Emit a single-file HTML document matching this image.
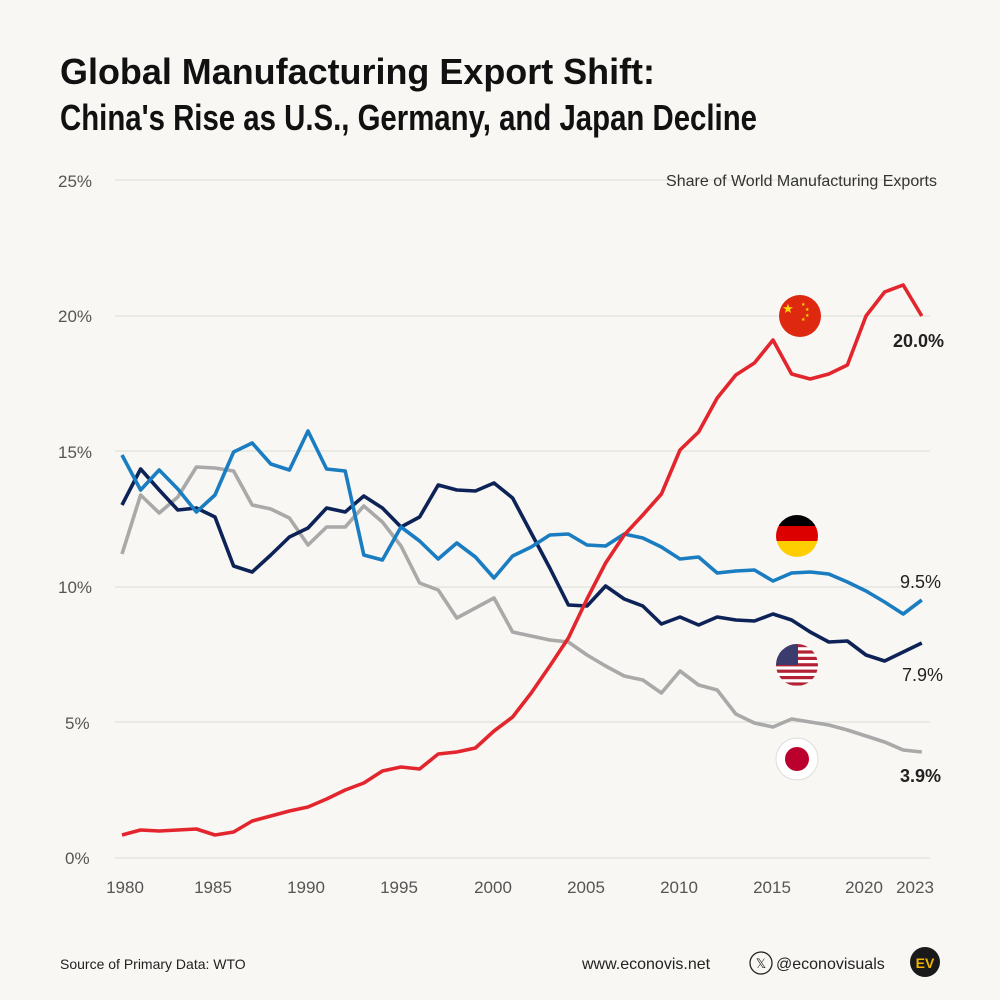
<!DOCTYPE html>
<html><head><meta charset="utf-8"><style>
html,body{margin:0;padding:0;background:#f8f7f3;}
svg{display:block;font-family:"Liberation Sans",sans-serif;}
</style></head><body>
<svg width="1000" height="1000" viewBox="0 0 1000 1000">
<rect width="1000" height="1000" fill="#f8f7f3"/>
<text x="60" y="84" font-size="36" font-weight="bold" fill="#111" textLength="595" lengthAdjust="spacingAndGlyphs">Global Manufacturing Export Shift:</text>
<text x="60" y="130" font-size="36" font-weight="bold" fill="#111" textLength="697" lengthAdjust="spacingAndGlyphs">China's Rise as U.S., Germany, and Japan Decline</text>
<g stroke="#e2e1dc" stroke-width="1.2">
<line x1="115" y1="180" x2="930" y2="180"/><line x1="115" y1="316" x2="930" y2="316"/>
<line x1="115" y1="451" x2="930" y2="451"/><line x1="115" y1="587" x2="930" y2="587"/>
<line x1="115" y1="722" x2="930" y2="722"/><line x1="115" y1="858" x2="930" y2="858"/>
</g>
<g font-size="17" fill="#555">
<text x="58" y="187">25%</text><text x="58" y="322">20%</text><text x="58" y="458">15%</text>
<text x="58" y="593">10%</text><text x="65" y="729">5%</text><text x="65" y="864">0%</text>
</g>
<text x="937" y="186" font-size="16" fill="#333" text-anchor="end">Share of World Manufacturing Exports</text>
<g font-size="17" fill="#555" text-anchor="middle">
<text x="125" y="893">1980</text><text x="213" y="893">1985</text><text x="306" y="893">1990</text>
<text x="399" y="893">1995</text><text x="493" y="893">2000</text><text x="586" y="893">2005</text>
<text x="679" y="893">2010</text><text x="772" y="893">2015</text><text x="864" y="893">2020</text>
<text x="915" y="893">2023</text>
</g>
<g fill="none" stroke-width="3.6" stroke-linejoin="round">
<polyline id="jp" stroke="#a9a9a9" points=""/>
<polyline id="us" stroke="#0d2257" points=""/>
<polyline id="de" stroke="#1a7cc1" points=""/>
<polyline id="cn" stroke="#e3262d" points=""/>
</g>
<!-- flags -->
<defs>
<clipPath id="c1"><circle cx="800" cy="316" r="21"/></clipPath>
<clipPath id="c2"><circle cx="797" cy="536" r="21"/></clipPath>
<clipPath id="c3"><circle cx="797" cy="665" r="21"/></clipPath>
</defs>
<circle cx="800" cy="316" r="21" fill="#de2910"/>
<text x="788" y="313" font-size="13" fill="#ffde00" text-anchor="middle">★</text>
<text x="801" y="306" font-size="5" fill="#ffde00">★</text><text x="805" y="311" font-size="5" fill="#ffde00">★</text>
<text x="805" y="317" font-size="5" fill="#ffde00">★</text><text x="801" y="321" font-size="5" fill="#ffde00">★</text>
<g clip-path="url(#c2)"><rect x="770" y="510" width="60" height="16" fill="#000"/><rect x="770" y="526" width="60" height="15" fill="#dd0000"/><rect x="770" y="541" width="60" height="20" fill="#ffce00"/></g>
<g clip-path="url(#c3)"><rect x="770" y="640" width="60" height="50" fill="#fff"/>
<g fill="#b22234"><rect x="770" y="644" width="60" height="3.2"/><rect x="770" y="650.4" width="60" height="3.2"/><rect x="770" y="656.8" width="60" height="3.2"/><rect x="770" y="663.2" width="60" height="3.2"/><rect x="770" y="669.6" width="60" height="3.2"/><rect x="770" y="676" width="60" height="3.2"/><rect x="770" y="682.4" width="60" height="3.2"/></g>
<rect x="770" y="640" width="28" height="25" fill="#3c3b6e"/></g>
<circle cx="797" cy="759" r="21" fill="#fff" stroke="#ddd"/><circle cx="797" cy="759" r="12" fill="#bc002d"/>
<g font-size="18" fill="#222" text-anchor="end">
<text x="944" y="347" font-weight="bold">20.0%</text>
<text x="941" y="588">9.5%</text>
<text x="943" y="681">7.9%</text>
<text x="941" y="782" font-weight="bold">3.9%</text>
</g>
<text x="60" y="969" font-size="14" fill="#222">Source of Primary Data: WTO</text>
<text x="582" y="969" font-size="16" fill="#222">www.econovis.net</text>
<circle cx="761" cy="963" r="11" fill="none" stroke="#222" stroke-width="1.3"/>
<text x="761" y="968" font-size="13" fill="#222" text-anchor="middle">𝕏</text>
<text x="776" y="969" font-size="16" fill="#222">@econovisuals</text>
<circle cx="925" cy="962" r="15" fill="#1a1a1a"/>
<text x="925" y="968" font-size="14" font-weight="bold" fill="#f0b400" text-anchor="middle">EV</text>
</svg>
<script>
var d={
cn:[835,830,831,830,829,835,832,821,816,811,807,799,790,783,771,767,769,754,752,748,731,717,693,666,638,599,563,535,515,494,450,432,398,375,363,340,374,379,374,365,316,292,285,316],
de:[455,490,470,489,512,495,452,443,464,470,431,469,471,555,560,527,541,559,543,557,578,556,547,535,534,545,546,534,538,547,559,557,573,571,570,581,573,572,574,582,591,602,614,600],
us:[505,469,490,510,508,517,566,572,555,537,528,508,512,496,508,527,517,485,490,491,483,498,533,568,605,606,586,599,606,624,617,625,617,620,621,614,620,632,642,641,655,661,652,643],
jp:[554,495,513,497,467,468,471,505,509,518,545,527,527,506,522,546,583,590,618,608,598,632,636,640,642,655,666,676,680,693,671,685,690,714,723,727,719,722,725,730,736,742,750,752]};
for(var k in d){document.getElementById(k).setAttribute('points',d[k].map(function(y,i){return (122+i*18.6).toFixed(1)+','+y}).join(' '));}
</script>
</body></html>
